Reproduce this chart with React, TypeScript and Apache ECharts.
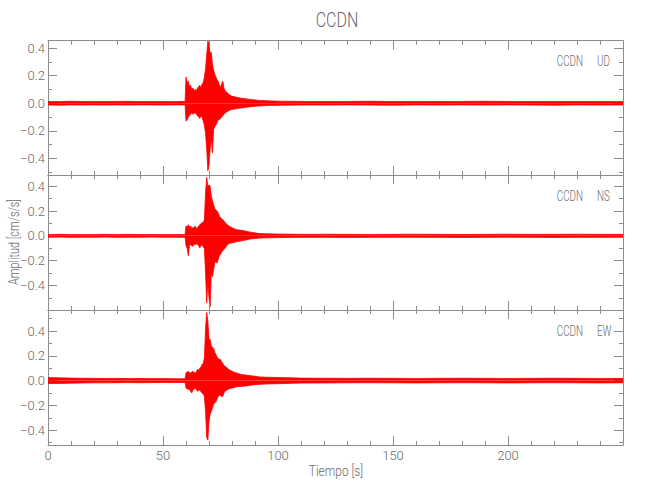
import React, { useEffect, useRef } from "react";
import * as echarts from "echarts";

// ---------- data ----------
const TITLE = "CCDN";
const STATION = "CCDN";
const COMPONENTS = ["UD", "NS", "EW"];
const X_LABEL = "Tiempo [s]";
const Y_LABEL = "Amplitud [cm/s/s]";

// sample times (s) of the trace envelope
const T = [
  0, 5, 10, 15, 20, 25, 30, 35, 40, 45, 50, 55, 59.6,
  60, 60.5, 61, 61.5, 62, 62.5, 63, 63.5, 64, 64.5, 65, 65.5, 66, 66.5, 67, 67.5, 68, 68.5, 69, 69.5,
  70, 70.5, 71, 71.5, 72, 72.5, 73, 73.5, 74, 74.5, 75, 75.5, 76, 76.5, 77,
  78, 79, 80, 81, 82, 83, 84, 85, 86, 88, 90, 92, 95,
  100, 110, 120, 130, 140, 150, 160, 170, 180, 190, 200, 210, 220, 230, 240, 250,
];

// UD component: upper and lower envelope (cm/s/s)
const UD_UP = [
  0.013, 0.012, 0.014, 0.012, 0.013, 0.012, 0.013, 0.014, 0.012, 0.013, 0.012, 0.012, 0.012,
  0.19, 0.15, 0.16, 0.12, 0.13, 0.10, 0.11, 0.09, 0.10, 0.09, 0.11, 0.12, 0.13, 0.11, 0.14, 0.15, 0.19, 0.25, 0.35, 0.45,
  0.43, 0.36, 0.37, 0.28, 0.24, 0.21, 0.19, 0.17, 0.16, 0.13, 0.12, 0.14, 0.16, 0.11, 0.09,
  0.075, 0.06, 0.05, 0.048, 0.043, 0.04, 0.036, 0.034, 0.032, 0.027, 0.024, 0.02, 0.018,
  0.015, 0.013, 0.012, 0.013, 0.014, 0.012, 0.013, 0.012, 0.013, 0.014, 0.013, 0.012, 0.013, 0.012, 0.013, 0.012,
];
const UD_LO = [
  -0.013, -0.014, -0.012, -0.013, -0.012, -0.013, -0.012, -0.013, -0.012, -0.012, -0.013, -0.012, -0.012,
  -0.13, -0.12, -0.10, -0.09, -0.08, -0.07, -0.08, -0.07, -0.07, -0.08, -0.09, -0.10, -0.11, -0.09, -0.10, -0.13, -0.16, -0.22, -0.33, -0.49,
  -0.45, -0.33, -0.26, -0.36, -0.19, -0.17, -0.16, -0.14, -0.12, -0.12, -0.11, -0.10, -0.09, -0.08, -0.07,
  -0.06, -0.05, -0.045, -0.042, -0.04, -0.037, -0.035, -0.033, -0.03, -0.025, -0.022, -0.02, -0.017,
  -0.015, -0.013, -0.013, -0.012, -0.013, -0.014, -0.012, -0.013, -0.012, -0.013, -0.012, -0.013, -0.014, -0.012, -0.013, -0.012,
];

// NS component
const NS_UP = [
  0.011, 0.012, 0.011, 0.010, 0.011, 0.012, 0.011, 0.012, 0.010, 0.011, 0.011, 0.010, 0.011,
  0.08, 0.07, 0.09, 0.07, 0.08, 0.06, 0.065, 0.07, 0.078, 0.06, 0.065, 0.08, 0.09, 0.10, 0.105, 0.11, 0.13, 0.35, 0.47, 0.40,
  0.41, 0.40, 0.32, 0.28, 0.25, 0.22, 0.21, 0.20, 0.185, 0.16, 0.145, 0.14, 0.13, 0.12, 0.105,
  0.09, 0.075, 0.065, 0.057, 0.05, 0.047, 0.045, 0.043, 0.038, 0.03, 0.024, 0.018, 0.016,
  0.014, 0.012, 0.013, 0.012, 0.011, 0.012, 0.013, 0.012, 0.011, 0.012, 0.013, 0.012, 0.012, 0.013, 0.012, 0.012,
];
const NS_LO = [
  -0.011, -0.010, -0.012, -0.011, -0.011, -0.010, -0.012, -0.011, -0.011, -0.010, -0.011, -0.011, -0.011,
  -0.08, -0.10, -0.16, -0.08, -0.07, -0.08, -0.083, -0.07, -0.07, -0.065, -0.07, -0.08, -0.097, -0.08, -0.07, -0.09, -0.10, -0.30, -0.54, -0.38,
  -0.50, -0.57, -0.30, -0.33, -0.27, -0.22, -0.20, -0.22, -0.19, -0.16, -0.15, -0.13, -0.12, -0.11, -0.10,
  -0.07, -0.06, -0.056, -0.052, -0.048, -0.044, -0.04, -0.037, -0.033, -0.025, -0.022, -0.018, -0.016,
  -0.014, -0.012, -0.012, -0.013, -0.012, -0.011, -0.012, -0.012, -0.013, -0.012, -0.011, -0.012, -0.013, -0.012, -0.012, -0.011,
];

// EW component
const EW_UP = [
  0.024, 0.022, 0.02, 0.019, 0.018, 0.017, 0.018, 0.016, 0.017, 0.016, 0.016, 0.015, 0.015,
  0.062, 0.07, 0.075, 0.065, 0.062, 0.07, 0.075, 0.065, 0.062, 0.07, 0.09, 0.085, 0.10, 0.11, 0.13, 0.14, 0.18, 0.42, 0.55, 0.48,
  0.34, 0.33, 0.28, 0.27, 0.26, 0.23, 0.21, 0.19, 0.18, 0.17, 0.17, 0.15, 0.14, 0.12, 0.115,
  0.10, 0.085, 0.075, 0.068, 0.062, 0.055, 0.05, 0.048, 0.045, 0.04, 0.035, 0.03, 0.027,
  0.025, 0.02, 0.019, 0.018, 0.019, 0.018, 0.017, 0.018, 0.019, 0.018, 0.017, 0.018, 0.019, 0.018, 0.017, 0.018,
];
const EW_LO = [
  -0.024, -0.023, -0.021, -0.019, -0.018, -0.018, -0.017, -0.016, -0.017, -0.016, -0.015, -0.016, -0.015,
  -0.06, -0.065, -0.073, -0.07, -0.086, -0.10, -0.075, -0.07, -0.06, -0.07, -0.086, -0.08, -0.075, -0.09, -0.10, -0.11, -0.126, -0.25, -0.46, -0.48,
  -0.33, -0.27, -0.25, -0.22, -0.19, -0.18, -0.17, -0.15, -0.126, -0.12, -0.12, -0.13, -0.126, -0.10, -0.086,
  -0.073, -0.065, -0.06, -0.055, -0.05, -0.048, -0.047, -0.046, -0.043, -0.038, -0.033, -0.03, -0.027,
  -0.025, -0.02, -0.019, -0.018, -0.017, -0.018, -0.019, -0.018, -0.017, -0.018, -0.019, -0.018, -0.017, -0.018, -0.019, -0.018,
];

const UPPER = [UD_UP, NS_UP, EW_UP];
const LOWER = [UD_LO, NS_LO, EW_LO];

// axis ranges and ticks
const X_MIN = 0;
const X_MAX = 250;
const X_MAJOR_STEP = 50;
const Y_MIN = [-0.52, -0.597, -0.52];
const Y_MAX = [0.453, 0.49, 0.57];
const Y_MAJOR = [-0.4, -0.2, 0, 0.2, 0.4];
const Y_MINOR = [-0.5, -0.3, -0.1, 0.1, 0.3, 0.5];

// ---------- styling ----------
const FONT = "Roboto, 'Liberation Sans', sans-serif";
const WEIGHT = 300;
const TEXT = "#6a6a6a";
const AXIS = "#8c8c8c";
const TRACE = "#ff0000";
const PANEL_TOP = [40.7, 175, 310];
const PANEL_H = [134.3, 135, 135];
const LEFT = 48;
const RIGHT = 27;

function fmtY(v: number) {
  const s = Math.abs(v).toFixed(1);
  return v < -1e-9 ? "\u2212" + s : s;
}

function txt(text: string, x: number, y: number, size: number, align: string, sx: number, extra: any = {}) {
  return {
    type: "text",
    x,
    y,
    scaleX: sx,
    silent: true,
    ...extra,
    style: {
      text,
      fill: TEXT,
      fontSize: size,
      fontFamily: FONT,
      fontWeight: WEIGHT,
      align,
      textAlign: align,
      verticalAlign: "middle",
      textVerticalAlign: "middle",
    },
  };
}

function buildOption() {
  const grid: any[] = [];
  const xAxis: any[] = [];
  const yAxis: any[] = [];
  const series: any[] = [];
  const graphic: any[] = [];

  for (let p = 0; p < 3; p++) {
    const gA = grid.length;
    grid.push({ left: LEFT, right: RIGHT, top: PANEL_TOP[p], height: PANEL_H[p], containLabel: false });
    const gB = grid.length;
    grid.push({ left: LEFT, right: RIGHT, top: PANEL_TOP[p], height: PANEL_H[p], containLabel: false });

    const xCommon = (position: string, showLabel: boolean) => ({
      type: "value",
      gridIndex: gA,
      position,
      min: X_MIN,
      max: X_MAX,
      interval: X_MAJOR_STEP,
      axisLine: { show: true, onZero: false, lineStyle: { color: AXIS, width: 1 } },
      axisTick: { show: true, inside: true, length: 9, lineStyle: { color: AXIS, width: 1 } },
      minorTick: { show: true, splitNumber: 5, length: 4, lineStyle: { color: AXIS, width: 1 } },
      axisLabel: {
        show: showLabel,
        showMaxLabel: false,
        color: TEXT,
        fontSize: 13,
        fontFamily: FONT,
        fontWeight: WEIGHT,
        margin: 4,
      },
      splitLine: { show: false },
      minorSplitLine: { show: false },
    });
    const xBottom = xAxis.length;
    xAxis.push(xCommon("bottom", p === 2));
    xAxis.push(xCommon("top", false));
    xAxis.push({ type: "value", gridIndex: gB, min: X_MIN, max: X_MAX, show: false });

    const minors = Y_MINOR.filter((v) => v > Y_MIN[p] && v < Y_MAX[p]);
    const yMajor = (position: string, showLabel: boolean) => ({
      type: "value",
      gridIndex: gA,
      position,
      min: Y_MIN[p],
      max: Y_MAX[p],
      axisLine: { show: true, onZero: false, lineStyle: { color: AXIS, width: 1 } },
      axisTick: { show: true, inside: true, length: 9, customValues: Y_MAJOR, lineStyle: { color: AXIS, width: 1 } },
      axisLabel: {
        show: showLabel,
        customValues: Y_MAJOR,
        formatter: fmtY,
        color: TEXT,
        fontSize: 13,
        fontFamily: FONT,
        fontWeight: WEIGHT,
        margin: 3,
      },
      splitLine: { show: false },
    });
    const yMinor = (position: string) => ({
      type: "value",
      gridIndex: gB,
      position,
      min: Y_MIN[p],
      max: Y_MAX[p],
      axisLine: { show: false, onZero: false },
      axisTick: { show: true, inside: true, length: 4, customValues: minors, lineStyle: { color: AXIS, width: 1 } },
      axisLabel: { show: false },
      splitLine: { show: false },
    });
    const yLeft = yAxis.length;
    yAxis.push(yMajor("left", true));
    yAxis.push(yMajor("right", false));
    yAxis.push(yMinor("left"));
    yAxis.push(yMinor("right"));

    const mk = (arr: number[]) => T.map((t, k) => [t, arr[k]]);
    [UPPER[p], LOWER[p]].forEach((arr, j) => {
      series.push({
        type: "line",
        name: COMPONENTS[p] + (j === 0 ? "+" : "-"),
        xAxisIndex: xBottom,
        yAxisIndex: yLeft,
        data: mk(arr),
        symbol: "none",
        showSymbol: false,
        silent: true,
        lineStyle: { color: TRACE, width: 0.8 },
        areaStyle: { color: TRACE, opacity: 1 },
      });
    });

    const labelY = [61, 196, 331.5][p];
    graphic.push(txt(STATION, 583, labelY, 14.5, "right", 0.68));
    graphic.push(txt(COMPONENTS[p], 597, labelY, 14.5, "left", 0.68));
  }

  graphic.push(txt(TITLE, 337, 20, 20, "center", 0.8));
  graphic.push(txt(X_LABEL, 336, 471, 14, "center", 0.85));
  graphic.push(txt(Y_LABEL, 14, 242, 14, "center", 0.78, { rotation: Math.PI / 2 }));

  return {
    animation: false,
    backgroundColor: "#ffffff",
    grid,
    xAxis,
    yAxis,
    series,
    graphic,
  };
}

export default function App() {
  const ref = useRef<HTMLDivElement>(null);
  useEffect(() => {
    if (!ref.current) return;
    const chart = echarts.init(ref.current, undefined, { renderer: "svg" });
    chart.setOption(buildOption() as any);
    return () => chart.dispose();
  }, []);
  return (
    <div
      ref={ref}
      style={{ position: "absolute", left: 0, top: 0, width: 650, height: 500, background: "#fff" }}
    />
  );
}
